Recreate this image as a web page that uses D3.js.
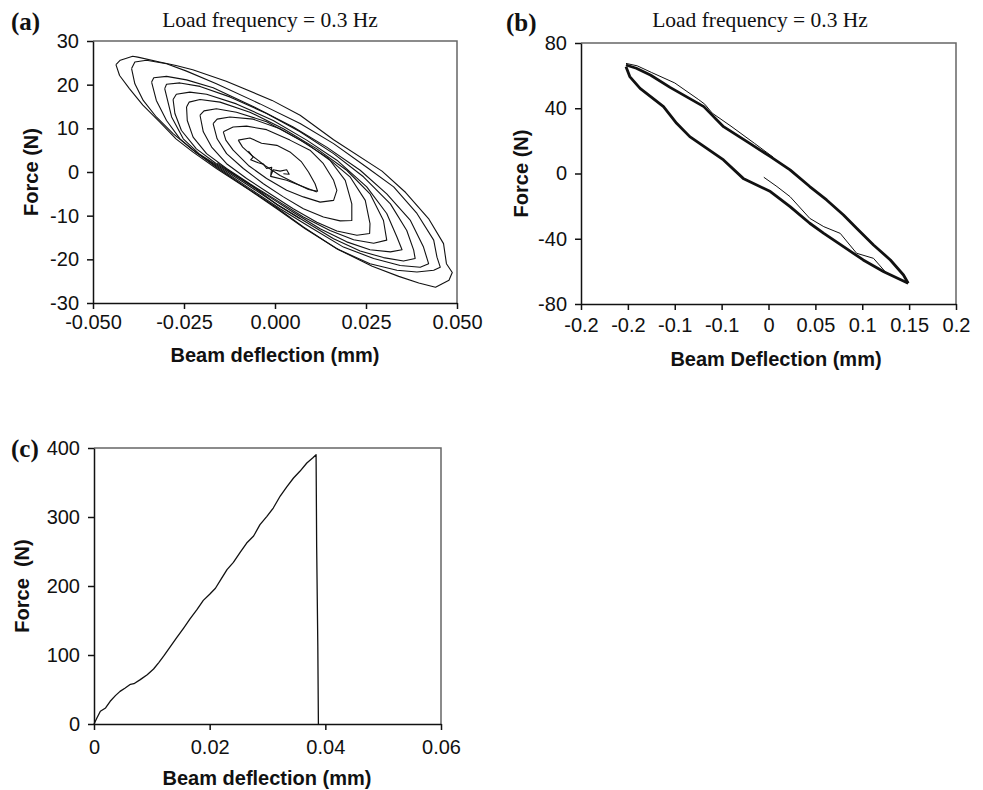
<!DOCTYPE html>
<html lang="en">
<head>
  <meta charset="UTF-8">
  <title>Beam deflection</title>
  <style>
    body { margin: 0; background: #fff; }
    svg { display: block; }
    .tick text { font-family: "Liberation Sans", Arial, sans-serif; font-size: 20px; fill: #111; }
    .tick line, .domain { stroke: #111; stroke-width: 1.5px; }
    .ax-title { font-family: "Liberation Sans", Arial, sans-serif; font-size: 20px; font-weight: bold; fill: #111; }
    .panel-title { font-family: "Liberation Serif", "Times New Roman", serif; font-size: 21.5px; fill: #111; }
    .panel-tag { font-family: "Liberation Serif", "Times New Roman", serif; font-size: 25px; font-weight: bold; fill: #111; }
    .frame { fill: none; stroke: #666; stroke-width: 1.5px; }
    .trace { fill: none; stroke: #111; stroke-width: 1.1px; stroke-linejoin: round; }
  </style>
</head>
<body>
<script src="https://cdn.jsdelivr.net/npm/d3@7"></script>
<svg id="chart" width="983" height="790"></svg>
<script>
  // ---- panel (a): growing hysteresis loops, [deflection mm, force N] ----
  let aLoop10 = [[-0.0437,24.6],[-0.0425,25.6],[-0.0391,26.5],[-0.0377,26.3],[-0.0317,25.2],[-0.0272,24.4],[-0.0226,23.4],[-0.0134,20.8],[-0.0008,16.4],[0.0069,13.0],[0.0161,7.4],[0.0294,0.2],[0.0359,-4.7],[0.0423,-10.8],[0.0463,-16.4],[0.0471,-21.0],[0.0487,-23.0],[0.0478,-24.8],[0.0441,-26.4],[0.0395,-25.4],[0.0340,-23.9],[0.0267,-21.6],[0.0175,-17.8],[0.0083,-13.0],[0.0008,-8.6],[-0.0069,-4.2],[-0.0161,0.8],[-0.0226,4.6],[-0.0272,7.6],[-0.0317,11.5],[-0.0363,15.3],[-0.0400,19.1],[-0.0427,22.1],[-0.0437,24.6]]
  let aLoop9 = [[-0.0394,23.7],[-0.0385,25.2],[-0.0353,25.6],[-0.0298,24.8],[-0.0243,23.1],[-0.0161,20.2],[-0.0041,15.6],[0.0069,11.1],[0.0161,6.5],[0.0252,1.1],[0.0326,-3.4],[0.0390,-9.5],[0.0436,-15.6],[0.0445,-19.5],[0.0454,-21.8],[0.0436,-22.5],[0.0390,-22.9],[0.0335,-22.5],[0.0261,-21.0],[0.0170,-17.6],[0.0078,-12.6],[0.0005,-8.2],[-0.0078,-3.6],[-0.0161,1.1],[-0.0225,5.0],[-0.0280,8.8],[-0.0326,12.6],[-0.0362,16.4],[-0.0385,20.2],[-0.0394,23.7]]
  let aLoop8 = [[-0.0339,20.6],[-0.0333,21.6],[-0.0298,21.9],[-0.0243,21.1],[-0.0170,19.3],[-0.0060,15.0],[0.0050,10.3],[0.0142,5.7],[0.0234,0.4],[0.0307,-5.0],[0.0372,-11.1],[0.0408,-17.2],[0.0422,-21.0],[0.0399,-21.8],[0.0344,-21.4],[0.0271,-19.8],[0.0188,-17.2],[0.0096,-12.6],[0.0014,-8.4],[-0.0069,-3.8],[-0.0151,0.8],[-0.0216,4.4],[-0.0261,7.6],[-0.0298,11.8],[-0.0326,16.4],[-0.0339,20.6]]
  let aLoop7 = [[-0.0303,19.1],[-0.0298,20.1],[-0.0261,20.4],[-0.0206,19.6],[-0.0124,17.2],[-0.0023,13.4],[0.0069,9.2],[0.0161,4.2],[0.0243,-1.1],[0.0317,-7.3],[0.0362,-13.4],[0.0381,-17.9],[0.0385,-19.8],[0.0353,-20.4],[0.0298,-19.6],[0.0234,-18.1],[0.0161,-15.3],[0.0078,-11.1],[0.0005,-7.4],[-0.0078,-2.8],[-0.0151,1.1],[-0.0206,4.0],[-0.0252,7.6],[-0.0284,12.6],[-0.0303,19.1]]
  let aLoop6 = [[-0.0280,16.6],[-0.0271,17.8],[-0.0234,18.3],[-0.0188,17.8],[-0.0106,15.6],[-0.0005,11.8],[0.0087,7.3],[0.0170,2.7],[0.0252,-3.4],[0.0307,-9.5],[0.0335,-14.9],[0.0349,-17.8],[0.0317,-18.3],[0.0261,-17.8],[0.0197,-16.0],[0.0124,-13.0],[0.0050,-9.2],[-0.0023,-5.3],[-0.0096,-1.5],[-0.0161,1.9],[-0.0216,5.3],[-0.0257,9.5],[-0.0275,13.4],[-0.0280,16.6]]
  let aLoop5 = [[-0.0243,14.9],[-0.0236,16.0],[-0.0206,16.6],[-0.0151,16.0],[-0.0069,13.7],[0.0023,9.9],[0.0115,5.3],[0.0197,0.4],[0.0261,-5.0],[0.0298,-11.1],[0.0307,-15.6],[0.0271,-16.3],[0.0216,-15.5],[0.0151,-13.4],[0.0078,-10.3],[0.0005,-6.5],[-0.0069,-2.7],[-0.0133,0.8],[-0.0188,4.2],[-0.0225,8.0],[-0.0241,11.8],[-0.0243,14.9]]
  let aLoop4 = [[-0.0206,13.0],[-0.0195,14.0],[-0.0161,14.5],[-0.0106,13.7],[-0.0023,11.5],[0.0069,7.3],[0.0142,3.4],[0.0206,-1.1],[0.0248,-6.5],[0.0261,-11.8],[0.0260,-14.1],[0.0225,-14.5],[0.0170,-13.5],[0.0115,-11.5],[0.0050,-8.4],[-0.0014,-5.0],[-0.0078,-1.5],[-0.0133,1.9],[-0.0174,5.7],[-0.0197,9.2],[-0.0206,13.0]]
  let aLoop3 = [[-0.0170,11.1],[-0.0159,12.1],[-0.0124,12.6],[-0.0060,12.1],[0.0014,9.9],[0.0087,6.5],[0.0151,2.7],[0.0193,-1.9],[0.0211,-7.3],[0.0211,-11.1],[0.0179,-11.2],[0.0133,-10.3],[0.0078,-8.4],[0.0023,-5.7],[-0.0032,-2.7],[-0.0087,0.8],[-0.0133,4.2],[-0.0159,7.6],[-0.0170,11.1]]
  let aLoop2 = [[-0.0142,9.2],[-0.0115,10.3],[-0.0078,10.5],[-0.0023,9.7],[0.0041,7.3],[0.0096,5.0],[0.0133,1.9],[0.0161,-1.9],[0.0170,-4.2],[0.0161,-6.5],[0.0124,-6.9],[0.0078,-5.7],[0.0032,-4.2],[-0.0023,-1.5],[-0.0073,1.5],[-0.0115,5.0],[-0.0135,7.3],[-0.0142,9.2]]
  let aLoop1 = [[-0.0101,7.3],[-0.0069,7.8],[-0.0037,6.6],[0.0005,6.1],[0.0041,4.6],[0.0073,2.3],[0.0092,0.0],[0.0110,-2.7],[0.0117,-4.4],[0.0092,-4.0],[0.0055,-2.5],[0.0014,-0.8],[-0.0028,1.5],[-0.0064,3.8],[-0.0089,5.7],[-0.0101,7.3]]
  let aCenter = [[-0.0073,4.8],[-0.0060,3.4],[-0.0067,2.8],[-0.0046,2.1],[-0.0032,1.8],[-0.0023,0.8],[-0.0009,1.1],[-0.0012,-1.0],[-0.0005,0.5],[0.0014,0.2],[0.0032,0.5],[0.0039,-0.5],[0.0023,-0.4]]
  let aInner = [[-0.0012,-1.0],[0.0032,-1.9],[0.0069,-3.1],[0.0115,-4.6]]
  let aStart = [[-0.0159,2.1],[-0.0115,-0.4],[-0.0060,-3.4],[0.0008,-7.6],[0.0069,-10.7]]

  // ---- panel (b) ----
  let bUpper = [[-0.152,66.5],[-0.141,64.5],[-0.126,60.4],[-0.105,52.8],[-0.069,41.0],[-0.048,28.7],[-0.020,18.5],[0.002,10.3],[0.023,2.2],[0.044,-8.0],[0.062,-16.2],[0.080,-25.4],[0.094,-33.6],[0.112,-43.8],[0.130,-53.0],[0.144,-62.2],[0.149,-67.3]]
  let bLower = [[-0.152,65.5],[-0.148,59.4],[-0.137,52.2],[-0.112,41.0],[-0.098,30.8],[-0.084,22.6],[-0.048,8.3],[-0.027,-3.0],[0.002,-11.1],[0.023,-20.3],[0.044,-30.5],[0.059,-36.7],[0.080,-44.8],[0.101,-53.0],[0.123,-60.2],[0.149,-67.3]]
  let bUpper2 = [[-0.152,67.5],[-0.140,66.0],[-0.125,62.0],[-0.100,55.5],[-0.075,45.5],[-0.068,42.5],[-0.060,37.0],[-0.040,29.0],[-0.015,18.5],[0.005,10.0]]
  let bStart = [[-0.005,-2.3],[0.009,-8.0],[0.023,-14.2],[0.044,-27.5],[0.059,-32.6],[0.0765,-36.7],[0.094,-48.9],[0.112,-52.0],[0.126,-61.2]]

  // ---- panel (c): monotonic load to failure ----
  let cLoad = [[0,0],[0.0005,8.7],[0.0011,18.4],[0.0020,23.2],[0.0028,32.9],[0.0037,41.1],[0.0045,47.3],[0.0054,52.2],[0.0063,57.5],[0.0069,58.4],[0.0080,64.3],[0.0092,71.5],[0.0103,79.7],[0.0112,89.0],[0.0121,99.0],[0.0132,112.0],[0.0143,125.1],[0.0155,139.1],[0.0166,152.2],[0.0178,165.7],[0.0189,179.2],[0.0200,188.0],[0.0210,196.7],[0.0220,210.2],[0.0230,223.7],[0.0241,234.3],[0.0253,249.2],[0.0264,262.3],[0.0276,272.4],[0.0287,288.9],[0.0299,301.0],[0.0310,313.0],[0.0322,330.4],[0.0333,343.4],[0.0345,356.5],[0.0356,366.2],[0.0368,378.3],[0.0378,385.5],[0.0384,390.3],[0.0385,257.5],[0.0387,112.6],[0.0388,0]]

  // ---- axes ----
  let aXTicks = [-0.05, -0.025, 0, 0.025, 0.05]
  let aXLabels = ['-0.050', '-0.025', '0.000', '0.025', '0.050']
  let aYTicks = [-30, -20, -10, 0, 10, 20, 30]
  let bXTicks = [-0.2, -0.15, -0.1, -0.05, 0, 0.05, 0.1, 0.15, 0.2]
  let bXLabels = ['-0.2', '-0.2', '-0.1', '-0.1', '0', '0.05', '0.1', '0.15', '0.2']
  let bYTicks = [-80, -40, 0, 40, 80]
  let cXTicks = [0, 0.02, 0.04, 0.06]
  let cXLabels = ['0', '0.02', '0.04', '0.06']
  let cYTicks = [0, 100, 200, 300, 400]

  let svg = d3.select('#chart')

  function panel (o) {
    let x = d3.scaleLinear().domain(o.xDomain).range([o.left, o.right])
    let y = d3.scaleLinear().domain(o.yDomain).range([o.bottom, o.top])
    let g = svg.append('g')

    // frame (top / right)
    g.append('path')
      .attr('class', 'frame')
      .attr('d', `M${o.left},${o.top}H${o.right}V${o.bottom}`)

    g.append('g')
      .attr('transform', `translate(0,${o.bottom})`)
      .call(d3.axisBottom(x).tickValues(o.xTicks)
        .tickFormat((d, i) => o.xLabels[i])
        .tickSize(6).tickSizeOuter(0).tickPadding(o.xPad))
    g.append('g')
      .attr('transform', `translate(${o.left},0)`)
      .call(d3.axisLeft(y).tickValues(o.yTicks)
        .tickFormat(d => String(d).replace('\u2212', '-'))
        .tickSize(6).tickSizeOuter(0).tickPadding(8))

    g.append('text')
      .attr('class', 'ax-title')
      .attr('x', o.xTitleX).attr('y', o.xTitleY)
      .attr('text-anchor', 'middle')
      .text(o.xTitle)
    g.append('text')
      .attr('class', 'ax-title')
      .attr('transform', `translate(${o.yTitleX},${(o.top + o.bottom) / 2}) rotate(-90)`)
      .attr('text-anchor', 'middle')
      .style('white-space', 'pre')
      .text(o.yTitle)

    if (o.title) {
      g.append('text')
        .attr('class', 'panel-title')
        .attr('x', o.titleX).attr('y', 27)
        .attr('text-anchor', 'middle')
        .text(o.title)
    }
    g.append('text')
      .attr('class', 'panel-tag')
      .attr('x', o.tagX).attr('y', o.tagY)
      .text(o.tag)

    let line = d3.line().x(d => x(d[0])).y(d => y(d[1]))
    let plot = g.append('g')
    o.series.forEach(s => {
      plot.append('path')
        .attr('class', 'trace')
        .attr('d', line(s.data))
        .style('stroke-width', s.w || 1.1)
    })
  }

  panel({
    left: 93, right: 457, top: 41, bottom: 303,
    xDomain: [-0.05, 0.05], yDomain: [-30, 30],
    xTicks: aXTicks, xLabels: aXLabels, yTicks: aYTicks, xPad: 6,
    xTitle: 'Beam deflection (mm)', xTitleX: 275, xTitleY: 362,
    yTitle: 'Force (N)', yTitleX: 38,
    title: 'Load frequency = 0.3 Hz', titleX: 270,
    tag: '(a)', tagX: 11, tagY: 30,
    series: [aLoop10, aLoop9, aLoop8, aLoop7, aLoop6, aLoop5, aLoop4, aLoop3, aLoop2, aLoop1, aCenter, aInner, aStart].map(d => ({data: d}))
  })

  panel({
    left: 581, right: 956, top: 43, bottom: 304,
    xDomain: [-0.2, 0.2], yDomain: [-80, 80],
    xTicks: bXTicks, xLabels: bXLabels, yTicks: bYTicks, xPad: 8,
    xTitle: 'Beam Deflection (mm)', xTitleX: 776, xTitleY: 366,
    yTitle: 'Force (N)', yTitleX: 528,
    title: 'Load frequency = 0.3 Hz', titleX: 760,
    tag: '(b)', tagX: 506, tagY: 31,
    series: [
      {data: bUpper, w: 2.8}, {data: bLower, w: 2.8},
      {data: bUpper2, w: 1}, {data: bStart, w: 1}
    ]
  })

  panel({
    left: 94, right: 441, top: 448, bottom: 724,
    xDomain: [0, 0.06], yDomain: [0, 400],
    xTicks: cXTicks, xLabels: cXLabels, yTicks: cYTicks, xPad: 10,
    xTitle: 'Beam deflection (mm)', xTitleX: 267, xTitleY: 785,
    yTitle: 'Force  (N)', yTitleX: 29,
    tag: '(c)', tagX: 11, tagY: 457,
    series: [{data: cLoad, w: 1.3}]
  })
</script>
</body>
</html>
